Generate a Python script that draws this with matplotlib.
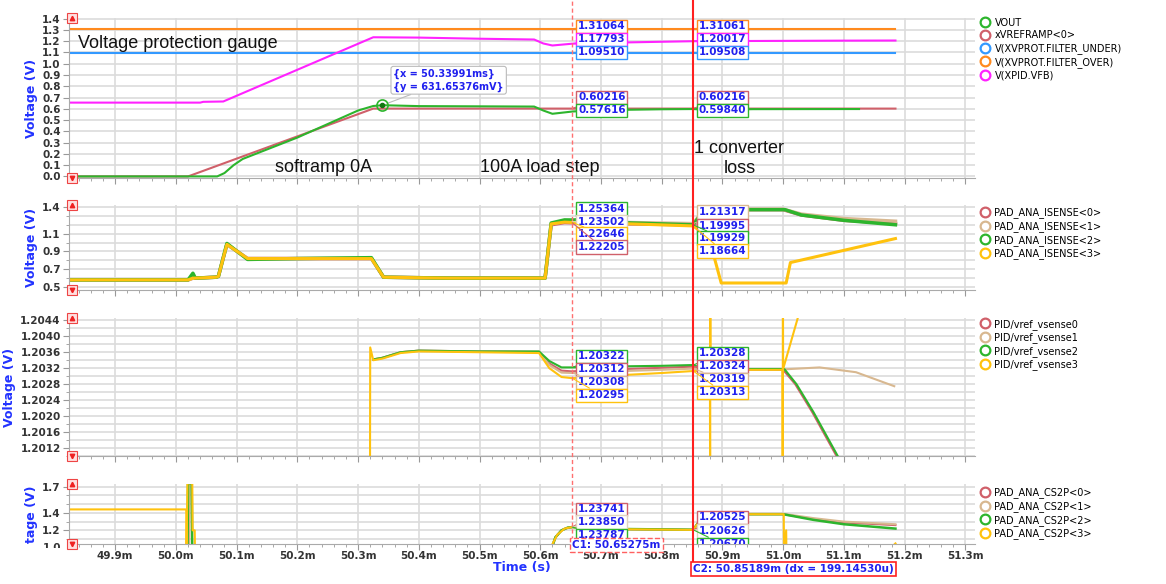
import matplotlib
matplotlib.use('Agg')
import matplotlib.pyplot as plt
import matplotlib.transforms as mtransforms
from matplotlib.lines import Line2D
from matplotlib.ticker import MultipleLocator, FixedLocator

plt.rcParams['font.family'] = 'DejaVu Sans'

GREEN = '#2db52d'
RED = '#d0606a'
BLUE = '#3399ff'
ORANGE = '#ff8a1e'
MAGENTA = '#ff22ff'
TAN = '#d8b890'
YELLOW = '#ffc20e'
TXT_BLUE = '#2020ee'
GRID = '#dcdcdc'

# cursors (ms)
c1 = 50.65275
c2 = 50.85189
xmin, xmax = 49.824, 51.316

time_ticks = [49.9, 50.0, 50.1, 50.2, 50.3, 50.4, 50.5, 50.6, 50.7, 50.8, 50.9, 51.0, 51.1, 51.2, 51.3]
time_labels = ['49.9m', '50.0m', '50.1m', '50.2m', '50.3m', '50.4m', '50.5m', '50.6m',
               '50.7m', '50.8m', '50.9m', '51.0m', '51.1m', '51.2m', '51.3m']

# ---- panel 1 : output / protection
vout_t = [49.824, 50.068, 50.080, 50.095, 50.110, 50.200, 50.300, 50.325, 50.340, 50.400, 50.500,
          50.590, 50.605, 50.620, 50.653, 50.700, 50.800, 50.852, 50.880, 50.950, 51.125]
vout_v = [0.0, 0.0, 0.03, 0.10, 0.155, 0.345, 0.585, 0.625, 0.632, 0.624, 0.622,
          0.620, 0.585, 0.556, 0.576, 0.588, 0.596, 0.598, 0.590, 0.597, 0.598]
vref_t = [49.824, 50.020, 50.325, 51.185]
vref_v = [0.0, 0.0, 0.602, 0.602]
under_t = [49.824, 51.185]
under_v = [1.0951, 1.0951]
over_t = [49.824, 51.185]
over_v = [1.3106, 1.3106]
vfb_t = [49.824, 50.040, 50.045, 50.078, 50.325, 50.400, 50.500, 50.590, 50.605, 50.620,
         50.653, 50.700, 50.800, 50.852, 50.950, 51.100, 51.185]
vfb_v = [0.655, 0.655, 0.662, 0.665, 1.235, 1.232, 1.222, 1.215, 1.180, 1.162,
         1.178, 1.185, 1.195, 1.200, 1.202, 1.205, 1.206]
p1_names = ['VOUT', 'xVREFRAMP<0>', 'V(XVPROT.FILTER_UNDER)', 'V(XVPROT.FILTER_OVER)', 'V(XPID.VFB)']

# ---- panel 2 : ISENSE
is_t = [49.824, 50.020, 50.028, 50.032, 50.066, 50.070, 50.084, 50.118, 50.200, 50.322,
        50.342, 50.450, 50.608, 50.618, 50.640, 50.653, 50.750, 50.852]
is0_v = [0.58, 0.58, 0.60, 0.60, 0.61, 0.62, 0.98, 0.82, 0.82, 0.82,
         0.61, 0.60, 0.60, 1.20, 1.225, 1.222, 1.21, 1.200]
is1_v = [0.58, 0.58, 0.60, 0.60, 0.61, 0.62, 0.98, 0.82, 0.82, 0.82,
         0.61, 0.60, 0.60, 1.21, 1.24, 1.235, 1.225, 1.213]
is2_v = [0.58, 0.58, 0.655, 0.60, 0.61, 0.62, 0.99, 0.81, 0.82, 0.83,
         0.61, 0.60, 0.60, 1.22, 1.255, 1.254, 1.22, 1.199]
is3_v = [0.58, 0.58, 0.60, 0.60, 0.61, 0.62, 0.98, 0.82, 0.82, 0.82,
         0.61, 0.60, 0.60, 1.21, 1.23, 1.226, 1.21, 1.187]
is0_post_t = [50.870, 51.000, 51.030, 51.100, 51.185]
is0_post_v = [1.37, 1.37, 1.31, 1.25, 1.215]
is1_post_t = [50.870, 51.000, 51.030, 51.100, 51.185]
is1_post_v = [1.375, 1.375, 1.32, 1.27, 1.24]
is2_post_t = [50.870, 51.003, 51.030, 51.100, 51.185]
is2_post_v = [1.37, 1.37, 1.31, 1.25, 1.20]
is3_post_t = [50.878, 50.898, 51.005, 51.012, 51.185]
is3_post_v = [1.05, 0.545, 0.545, 0.775, 1.045]
p2_names = ['PAD_ANA_ISENSE<0>', 'PAD_ANA_ISENSE<1>', 'PAD_ANA_ISENSE<2>', 'PAD_ANA_ISENSE<3>']

# ---- panel 3 : vref_vsense
vs_t = [50.325, 50.340, 50.370, 50.400, 50.500, 50.598, 50.615, 50.635, 50.653, 50.700, 50.800, 50.852]
vs0_v = [1.20342, 1.20346, 1.20360, 1.20364, 1.20362, 1.20361, 1.20332, 1.20314, 1.20312, 1.20316, 1.20321, 1.20324]
vs1_v = [1.20342, 1.20346, 1.20360, 1.20364, 1.20362, 1.20360, 1.20328, 1.20309, 1.20308, 1.20311, 1.20316, 1.20319]
vs2_v = [1.20342, 1.20346, 1.20360, 1.20364, 1.20362, 1.20362, 1.20338, 1.20322, 1.20322, 1.20324, 1.20326, 1.20328]
vs3_v = [1.20340, 1.20344, 1.20358, 1.20362, 1.20360, 1.20358, 1.20320, 1.20298, 1.20295, 1.20300, 1.20308, 1.20313]
vs0_post_t = [50.870, 51.000, 51.020, 51.048, 51.088, 51.100]
vs0_post_v = [1.20317, 1.20316, 1.20280, 1.20210, 1.20100, 1.20070]
vs1_post_t = [50.870, 51.000, 51.060, 51.120, 51.183]
vs1_post_v = [1.20317, 1.20317, 1.20322, 1.20310, 1.20275]
vs2_post_t = [50.870, 51.002, 51.022, 51.050, 51.090, 51.100]
vs2_post_v = [1.20318, 1.20318, 1.20280, 1.20210, 1.20100, 1.20075]
vs3_pre_t = [50.3195, 50.3200]
vs3_pre_v = [1.19900, 1.20372]
vs3_post_t = [50.8795, 50.8798, 50.8800, 50.8803, 50.9990, 50.9993, 50.9996, 51.0000, 51.0240, 51.0300]
vs3_post_v = [1.20314, 1.19900, 1.20600, 1.20316, 1.20316, 1.19900, 1.20600, 1.20318, 1.20445, 1.20500]
p3_names = ['PID/vref_vsense0', 'PID/vref_vsense1', 'PID/vref_vsense2', 'PID/vref_vsense3']

# ---- panel 4 : CS2P
cs3_t = [49.824, 50.017, 50.0175, 50.019, 50.027, 50.0275, 50.031, 50.0315, 50.619, 50.620, 50.628,
         50.640, 50.653, 50.700, 50.852, 50.870, 51.001, 51.0015, 51.005, 51.0055, 51.162, 51.185]
cs3_v = [1.44, 1.44, 0.90, 1.74, 1.74, 1.20, 1.20, 0.90, 0.90, 1.04, 1.15,
         1.22, 1.238, 1.215, 1.205, 1.385, 1.385, 0.90, 1.20, 0.90, 0.90, 1.05]
cs2_t = [50.019, 50.020, 50.026, 50.027, 50.620, 50.625, 50.635, 50.645, 50.653, 50.700,
         50.852, 50.870, 51.000, 51.050, 51.100, 51.185]
cs2_v = [0.90, 1.74, 1.74, 0.90, 1.02, 1.12, 1.20, 1.23, 1.238, 1.218,
         1.207, 1.385, 1.385, 1.32, 1.27, 1.22]
cs0_t = [50.021, 50.0215, 50.026, 50.0265, 50.620, 50.625, 50.635, 50.645, 50.653, 50.700,
         50.852, 50.870, 51.000, 51.050, 51.100, 51.185]
cs0_v = [0.90, 1.74, 1.74, 0.90, 1.02, 1.12, 1.20, 1.23, 1.237, 1.216,
         1.205, 1.385, 1.385, 1.33, 1.29, 1.26]
cs1_v = [0.90, 1.74, 1.74, 0.90, 1.02, 1.12, 1.20, 1.23, 1.2385, 1.217,
         1.206, 1.39, 1.39, 1.34, 1.30, 1.27]
p4_names = ['PAD_ANA_CS2P<0>', 'PAD_ANA_CS2P<1>', 'PAD_ANA_CS2P<2>', 'PAD_ANA_CS2P<3>']

# cursor read-outs
p1_c1 = ['1.31064', '1.17793', '1.09510', '0.60216', '0.57616']
p1_c2 = ['1.31061', '1.20017', '1.09508', '0.60216', '0.59840']
p2_c1 = ['1.25364', '1.23502', '1.22646', '1.22205']
p2_c2 = ['1.21317', '1.19995', '1.19929', '1.18664']
p3_c1 = ['1.20322', '1.20312', '1.20308', '1.20295']
p3_c2 = ['1.20328', '1.20324', '1.20319', '1.20313']
p4_c1 = ['1.23741', '1.23850', '1.23787']
p4_c2 = ['1.20525', '1.20626', '1.20670']


def setup(ax, ylim, yticks, ylabels, ystep):
    ax.set_xlim(xmin, xmax)
    ax.set_ylim(*ylim)
    ax.set_xticks(time_ticks)
    ax.xaxis.set_minor_locator(MultipleLocator(0.02))
    ax.yaxis.set_major_locator(FixedLocator(yticks))
    ax.set_yticklabels(ylabels, fontweight='bold', fontsize=7.5, color='#333333')
    ax.yaxis.set_minor_locator(MultipleLocator(ystep))
    ax.grid(True, which='major', axis='x', color=GRID, lw=1.2)
    ax.grid(True, which='both', axis='y', color=GRID, lw=1.2)
    ax.set_axisbelow(True)
    for s in ['top', 'right']:
        ax.spines[s].set_visible(False)
    for s in ['left', 'bottom']:
        ax.spines[s].set_color('#aaaaaa')
    ax.tick_params(which='major', length=4, color='#999999', pad=2)
    ax.tick_params(which='minor', length=2.5, color='#999999')
    ax.set_ylabel('Voltage (V)', color='#2233ff', fontweight='bold', fontsize=9, labelpad=3)
    # red range arrows on the y axis
    for yy, m in [(1, '^'), (0, 'v')]:
        ax.plot([0.003], [yy], marker='s', ms=7, mfc='#ffe0e0', mec='#ee4444', mew=0.8,
                transform=ax.transAxes, clip_on=False, zorder=6)
        ax.plot([0.003], [yy], marker=m, ms=3.2, color='#ee2222', ls='none',
                transform=ax.transAxes, clip_on=False, zorder=7)


def legend(ax, names, colors):
    handles = [Line2D([], [], ls='none', marker='o', ms=7, mfc='white', mec=c, mew=1.6)
               for c in colors]
    ax.legend(handles, names, loc='upper left', bbox_to_anchor=(1.0, 1.04), frameon=False,
              fontsize=7, handlelength=0.9, handletextpad=0.5, labelspacing=0.28, borderaxespad=0.2)


def readouts(ax, x, labels, colors, fracs, clip=False):
    tr = mtransforms.blended_transform_factory(ax.transData, ax.transAxes)
    for s, c, f in zip(labels, colors, fracs):
        a = ax.annotate(s, xy=(x, float(s)), xycoords='data', xytext=(x + 0.0095, f), textcoords=tr,
                        ha='left', va='center', fontsize=7.5, fontweight='bold', color=TXT_BLUE,
                        bbox=dict(boxstyle='square,pad=0.15', fc='white', ec=c, lw=1),
                        arrowprops=dict(arrowstyle='-', color=c, lw=0.8, shrinkA=0, shrinkB=0),
                        annotation_clip=False, zorder=8)
        if clip:
            a.set_clip_on(True)
            a.set_clip_box(ax.bbox)


fig = plt.figure(figsize=(11.66, 5.84), dpi=100)
L, W = 0.0592, 0.777
ax1 = fig.add_axes([L, 0.695, W, 0.274])
ax2 = fig.add_axes([L, 0.5034, W, 0.1455])
ax3 = fig.add_axes([L, 0.219, W, 0.236])
ax4 = fig.add_axes([L, 0.068, W, 0.103])

# panel 1
setup(ax1, (-0.015, 1.405), [i / 10 for i in range(15)], ['%.1f' % (i / 10) for i in range(15)], 0.1)
ax1.plot(over_t, over_v, color=ORANGE, lw=1.5)
ax1.plot(under_t, under_v, color=BLUE, lw=1.5)
ax1.plot(vfb_t, vfb_v, color=MAGENTA, lw=1.5)
ax1.plot(vref_t, vref_v, color=RED, lw=1.5)
ax1.plot(vout_t, vout_v, color=GREEN, lw=1.5)
legend(ax1, p1_names, [GREEN, RED, BLUE, ORANGE, MAGENTA])
ax1.plot([50.33991], [0.63165376], marker='o', ms=8, mfc='none', mec=GREEN, mew=1.2, zorder=6)
ax1.plot([50.33991], [0.63165376], marker='o', ms=3, color='#117711', zorder=6)
ax1.annotate('{x = 50.33991ms}\n{y = 631.65376mV}', xy=(50.33991, 0.63165376), xytext=(8, 18),
             textcoords='offset points', ha='left', va='center', fontsize=7, fontweight='bold',
             color=TXT_BLUE, linespacing=1.3,
             bbox=dict(boxstyle='round,pad=0.25', fc='white', ec='#bbbbbb', lw=0.8),
             arrowprops=dict(arrowstyle='-', color='#bbbbbb', lw=0.8, shrinkA=0, shrinkB=4))
ax1.text(0.01, 0.844, 'Voltage protection gauge', transform=ax1.transAxes, fontsize=13,
         family='Liberation Sans', va='center', ha='left', color='#111111')
ax1.text(0.227, 0.069, 'softramp 0A', transform=ax1.transAxes, fontsize=13,
         family='Liberation Sans', va='center', ha='left', color='#111111')
ax1.text(0.454, 0.069, '100A load step', transform=ax1.transAxes, fontsize=13,
         family='Liberation Sans', va='center', ha='left', color='#111111')
ax1.text(0.74, 0.122, '1 converter\nloss', transform=ax1.transAxes, fontsize=13,
         family='Liberation Sans', va='center', ha='center', color='#111111', linespacing=1.25)
p1_cols = [ORANGE, MAGENTA, BLUE, RED, GREEN]
p1_fr = [0.95, 0.869, 0.7875, 0.506, 0.425]
readouts(ax1, c1, p1_c1, p1_cols, p1_fr)
readouts(ax1, c2, p1_c2, p1_cols, p1_fr)

# panel 2
setup(ax2, (0.466, 1.422), [0.5, 0.7, 0.9, 1.1, 1.4], ['0.5', '0.7', '0.9', '1.1', '1.4'], 0.1)
ax2.plot(is_t + is0_post_t, is0_v + is0_post_v, color=RED, lw=2.5)
ax2.plot(is_t + is1_post_t, is1_v + is1_post_v, color=TAN, lw=2.5)
ax2.plot(is_t + is2_post_t, is2_v + is2_post_v, color=GREEN, lw=2.5)
ax2.plot(is_t + is3_post_t, is3_v + is3_post_v, color=YELLOW, lw=2.2)
legend(ax2, p2_names, [RED, TAN, GREEN, YELLOW])
readouts(ax2, c1, p2_c1, [GREEN, '#e0d4c0', YELLOW, RED], [0.953, 0.80, 0.659, 0.506])
readouts(ax2, c2, p2_c2, [TAN, RED, GREEN, YELLOW], [0.918, 0.753, 0.612, 0.459])

# panel 3
v3 = [1.2012, 1.2016, 1.2020, 1.2024, 1.2028, 1.2032, 1.2036, 1.2040, 1.2044]
setup(ax3, (1.2010, 1.20445), v3, ['%.4f' % v for v in v3], 0.0002)
ax3.plot(vs_t + vs0_post_t, vs0_v + vs0_post_v, color=RED, lw=1.5)
ax3.plot(vs_t + vs1_post_t, vs1_v + vs1_post_v, color=TAN, lw=1.5)
ax3.plot(vs_t + vs2_post_t, vs2_v + vs2_post_v, color=GREEN, lw=1.5)
ax3.plot(vs3_pre_t + vs_t + vs3_post_t, vs3_pre_v + vs3_v + vs3_post_v, color=YELLOW, lw=1.5)
legend(ax3, p3_names, [RED, TAN, GREEN, YELLOW])
readouts(ax3, c1, p3_c1, [GREEN, RED, TAN, YELLOW], [0.725, 0.630, 0.536, 0.442])
readouts(ax3, c2, p3_c2, [GREEN, RED, TAN, YELLOW], [0.746, 0.652, 0.558, 0.464])

# panel 4
setup(ax4, (1.04, 1.73), [1.2, 1.4, 1.7], ['1.2', '1.4', '1.7'], 0.1)
ax4.set_ylabel('tage (V)', color='#2233ff', fontweight='bold', fontsize=9, labelpad=3)
ax4.plot(cs0_t, cs0_v, color=RED, lw=1.5)
ax4.plot(cs0_t, cs1_v, color=TAN, lw=1.5)
ax4.plot(cs2_t, cs2_v, color=GREEN, lw=1.8)
ax4.plot(cs3_t, cs3_v, color=YELLOW, lw=1.5)
legend(ax4, p4_names, [RED, TAN, GREEN, YELLOW])
readouts(ax4, c1, p4_c1, [RED, '#e0d4c0', GREEN], [0.585, 0.37, 0.15], clip=True)
readouts(ax4, c2, p4_c2, [RED, '#e0d4c0', GREEN], [0.446, 0.22, 0.0], clip=True)
one = ax4.text(-0.008, 1.0, '1.0', transform=mtransforms.blended_transform_factory(ax4.transAxes, ax4.transData),
               ha='right', va='center', fontsize=7.5, fontweight='bold', color='#333333')
one.set_clip_box(mtransforms.TransformedBbox(mtransforms.Bbox([[-0.1, -0.06], [0.0, 1.0]]), ax4.transAxes))
one.set_clip_on(True)

for ax in (ax1, ax2, ax3):
    ax.tick_params(labelbottom=False)
ax4.set_xticklabels(time_labels, fontweight='bold', fontsize=7.5, color='#333333')
ax4.tick_params(axis='x', which='major', pad=1)
ax4.set_xlabel('Time (s)', color='#2233ff', fontweight='bold', fontsize=9, labelpad=0)

# cursor lines through all panels
trf = mtransforms.blended_transform_factory(ax1.transData, fig.transFigure)
fig.add_artist(Line2D([c1, c1], [0.075, 1.0], transform=trf, color='#ff7070', lw=1, ls=(0, (3, 2))))
fig.add_artist(Line2D([c2, c2], [0.03, 1.0], transform=trf, color='#ff2020', lw=1.5))
fig.text(c1, 0.067, 'C1: %.5fm' % c1, transform=trf, ha='left', va='center', fontsize=7.5,
         fontweight='bold', color=TXT_BLUE,
         bbox=dict(boxstyle='square,pad=0.2', fc='white', ec='#ff6060', ls='--', lw=1))
fig.text(c2, 0.026, 'C2: %.5fm (dx = 199.14530u)' % c2, transform=trf, ha='left', va='center',
         fontsize=7.5, fontweight='bold', color=TXT_BLUE,
         bbox=dict(boxstyle='square,pad=0.2', fc='white', ec='#ff2020', lw=1.2))

fig.savefig('out.png', dpi=100)
